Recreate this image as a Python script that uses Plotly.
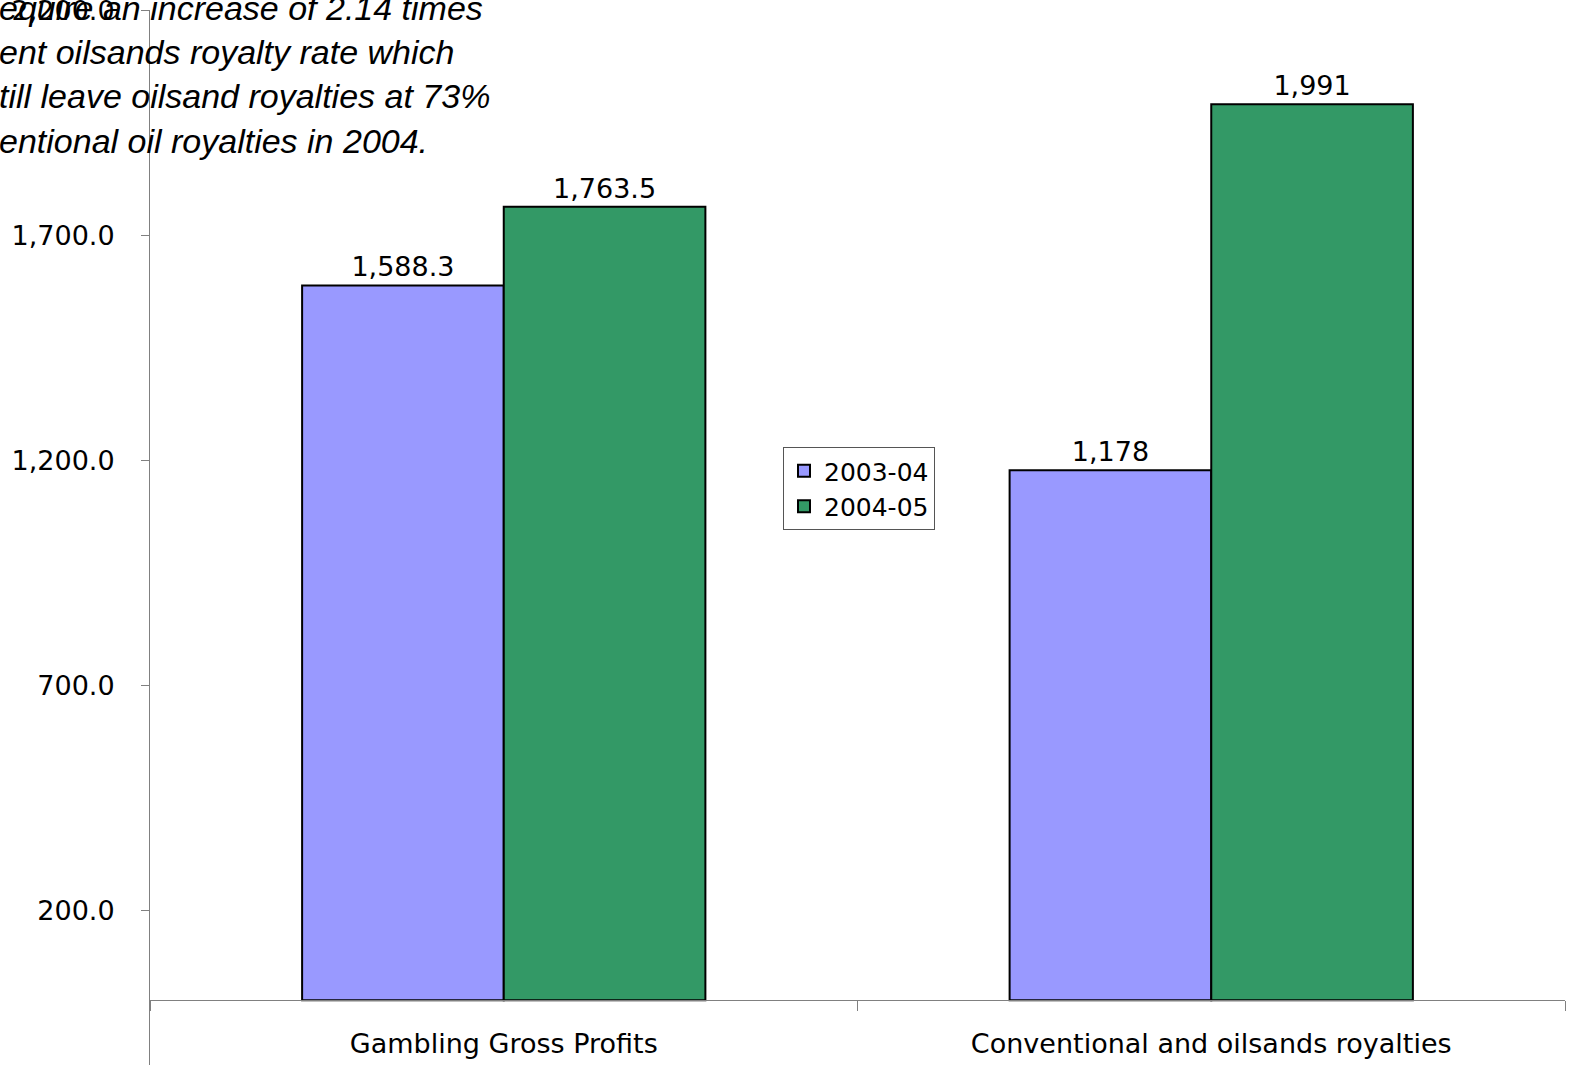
import plotly.graph_objects as go

categories = ["Gambling Gross Profits", "Conventional and oilsands royalties"]
series_names = ["2003-04", "2004-05"]
values_2003 = [1588.3, 1178]
values_2004 = [1763.5, 1991]
labels_2003 = ["1,588.3", "1,178"]
labels_2004 = ["1,763.5", "1,991"]
y_tickvals = [200, 700, 1200, 1700, 2200]
note_lines = [
    "equire an increase of 2.14 times",
    "ent oilsands royalty rate which",
    "till leave oilsand royalties at 73%",
    "entional oil royalties in 2004.",
]

W, H = 1580, 1065
L, R, T, B = 150, 15, 10, 0
ymax = 2200.5
ppu = 0.45
ymin = ymax - (H - T - B) / ppu

def py(pix):
    return (H - B - pix) / (H - T - B)

def px(pix):
    return (pix - L) / (W - L - R)

font_main = dict(family="DejaVu Sans", size=27, color="black")

fig = go.Figure()
fig.add_trace(go.Bar(
    x=categories, y=values_2003, name=series_names[0],
    marker=dict(color="#9999FF", line=dict(color="black", width=2)),
    text=labels_2003, textposition="outside", textfont=font_main,
    cliponaxis=False,
))
fig.add_trace(go.Bar(
    x=categories, y=values_2004, name=series_names[1],
    marker=dict(color="#339966", line=dict(color="black", width=2)),
    text=labels_2004, textposition="outside", textfont=font_main,
    cliponaxis=False,
))

fig.update_layout(
    width=W, height=H,
    margin=dict(l=L, r=R, t=T, b=B, pad=0, autoexpand=False),
    paper_bgcolor="white", plot_bgcolor="white",
    barmode="group", bargap=0.43, bargroupgap=0,
    font=font_main,
    showlegend=True,
    legend=dict(
        x=px(783), y=py(447), xanchor="left", yanchor="top",
        bgcolor="white", bordercolor="#555555", borderwidth=1,
        font=dict(family="DejaVu Sans", size=25, color="black"),
        tracegroupgap=0, itemwidth=30,
    ),
    yaxis=dict(
        range=[ymin, ymax], tickvals=y_tickvals,
        ticktext=[f"{v:,.1f}" for v in y_tickvals],
        showgrid=False, zeroline=False, automargin=False,
        showline=True, linecolor="#808080", linewidth=1,
        ticks="outside", ticklen=8, tickcolor="#808080",
        ticklabelstandoff=21, ticklabeloverflow="allow",
    ),
    xaxis=dict(
        anchor="free", position=(0 - ymin) / (ymax - ymin),
        showgrid=False, zeroline=False, automargin=False,
        showline=True, linecolor="#808080", linewidth=1,
        ticks="outside", tickson="boundaries", ticklen=10, tickcolor="#808080",
        ticklabelstandoff=19,
        range=[-0.5, 1.5],
    ),
    annotations=[dict(
        xref="paper", yref="paper",
        x=px(-3), y=py(75), xanchor="left", yanchor="middle",
        text="<br>".join(note_lines), align="left", showarrow=False,
        font=dict(family="Liberation Sans", size=34, color="black", style="italic"),
    )],
)

fig.write_html("out.html", post_script="document.body.style.margin='0';",
               config={"displayModeBar": False})
